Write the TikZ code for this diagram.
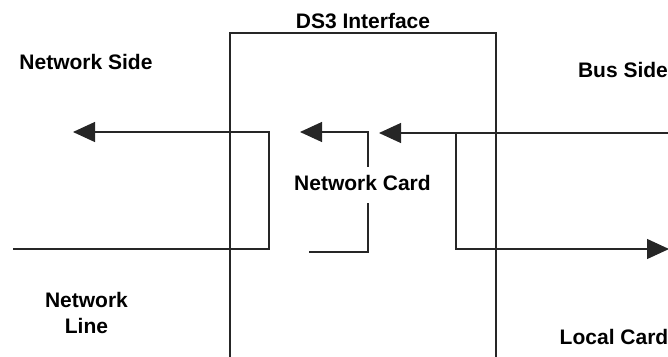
\documentclass[tikz,border=0pt]{standalone}
\usepackage{fontspec}
\setmainfont{Liberation Sans}
\usetikzlibrary{arrows.meta}
\tikzset{
  lbl/.style={font=\fontsize{21}{26}\selectfont\bfseries, inner sep=0pt, text=black},
  wire/.style={line width=1.2pt, draw=black!85},
  sig/.style={wire, -{Triangle[length=22pt,width=20pt]}},
  boxline/.style={line width=2.5pt, draw=black!85}
}
\begin{document}
\begin{tikzpicture}[x=1pt,y=-1pt]
\useasboundingbox (0,0) rectangle (668,356);
% interface box (open at the bottom)
\coordinate (bl) at (230,358);
\coordinate (tl) at (230,33);
\coordinate (tr) at (496,33);
\coordinate (br) at (496,358);
\draw[boxline] (bl) -- (tl) -- (tr) -- (br);
% connector points
\coordinate (nlin) at (13,249);
\coordinate (nlc) at (269,249);
\coordinate (nlu) at (269,132);
\coordinate (nstip) at (73,132);
\coordinate (ncin) at (309,252);
\coordinate (ncc) at (368,252);
\coordinate (ncu) at (368,132);
\coordinate (nctip) at (300,132);
\coordinate (busin) at (669,133);
\coordinate (bustip) at (379,133);
\coordinate (split) at (456,133);
\coordinate (splitd) at (456,249);
\coordinate (loctip) at (669,249);
\draw[sig] (nlin) -- (nlc) -- (nlu) -- (nstip);
\draw[sig] (ncin) -- (ncc) -- (ncu) -- (nctip);
\draw[sig] (busin) -- (bustip);
\draw[sig] (split) -- (splitd) -- (loctip);
% labels
\node[lbl, anchor=base] (ds3) at (363,28) {DS3 Interface};
\node[lbl, anchor=base] (ns) at (86,69) {Network Side};
\node[lbl, anchor=base] (bs) at (623,77) {Bus Side};
\node[lbl, align=center] (nl) at (86.5,312.5) {Network\\Line};
\node[lbl, anchor=base] (lc) at (614,344) {Local Card};
\node[lbl, anchor=base, fill=white, inner ysep=8pt, text depth=5pt] (nc) at (362.5,190) {Network Card};
\end{tikzpicture}
\end{document}
